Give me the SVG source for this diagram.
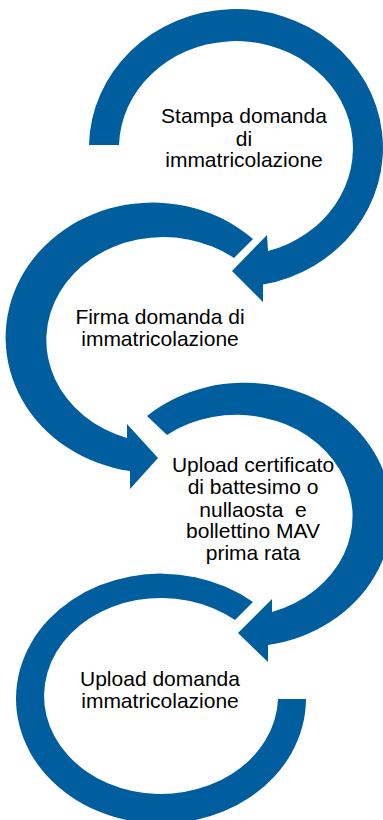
<svg xmlns="http://www.w3.org/2000/svg" width="383" height="820" viewBox="0 0 383 820">
<style>
.arrow{fill:#015E9E;stroke:none}
.lbl{font-family:"Liberation Sans",Arial,sans-serif;font-size:21px;fill:#000;text-anchor:middle}
</style>
<rect width="383" height="820" fill="#fff"/>
<g id="connectors"></g>
<g id="step1">
<path class="arrow" d="M 89 145 A 147 139 0 1 1 263 284.6 L 263 302 L 232 271 L 267 235 L 268 251 A 117 107 0 1 0 119 145 Z"/>
<text class="lbl" x="244" y="122.5">Stampa domanda</text>
<text class="lbl" x="244" y="145.5">di</text>
<text class="lbl" x="244" y="166.5">immatricolazione</text>
</g>
<g id="step2">
<path class="arrow" d="M 253 239 A 147 135 0 1 0 130 471 L 130 489 L 158 458 L 127 424 L 127 438 A 117 103 0 1 1 234 258 Z"/>
<text class="lbl" x="160" y="324">Firma domanda di</text>
<text class="lbl" x="160" y="346">immatricolazione</text>
</g>
<g id="step3">
<path class="arrow" d="M 147 416 A 147 132 0 1 1 268 645 L 268 662 L 238 633 L 272 599 L 272 612 A 116 101 0 1 0 167 435 Z"/>
<text class="lbl" x="253" y="472">Upload certificato</text>
<text class="lbl" x="253" y="494">di battesimo o</text>
<text class="lbl" x="253" y="516.5" xml:space="preserve" style="white-space:pre">nullaosta  e</text>
<text class="lbl" x="253" y="538">bollettino MAV</text>
<text class="lbl" x="253" y="560">prima rata</text>
</g>
<g id="step4">
<path class="arrow" d="M 253 602 A 145 125 0 1 0 306 699 L 278 699 A 117 98 0 1 1 235 620 Z"/>
<text class="lbl" x="160" y="686">Upload domanda</text>
<text class="lbl" x="160" y="708">immatricolazione</text>
</g>
</svg>
